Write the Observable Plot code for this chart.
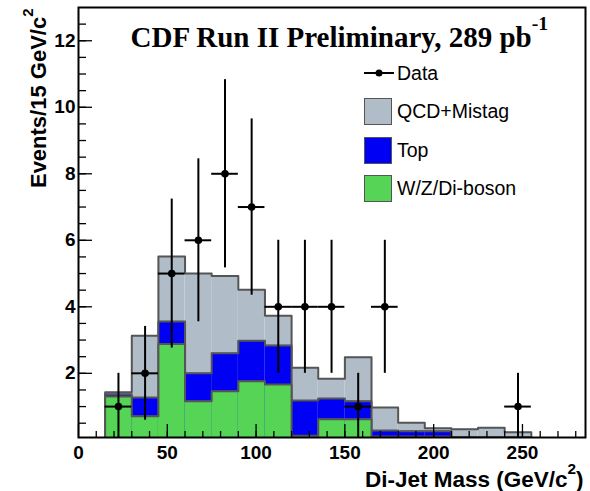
<!DOCTYPE html>
<html><head><meta charset="utf-8">
<script src="https://cdn.jsdelivr.net/npm/d3@7"></script>
<script src="https://cdn.jsdelivr.net/npm/@observablehq/plot@0.6"></script>
<style>
body{margin:0;background:#fff;}
#wrap{position:relative;width:590px;height:491px;overflow:hidden;}
#legend{position:absolute;left:364px;top:54px;font-family:"Liberation Sans",Arial,sans-serif;font-size:19.5px;color:#000;}
.row{display:flex;align-items:center;height:38.5px;}
.sw{width:26px;height:25px;border:1.5px solid #555;}
.lab{margin-left:5px;line-height:1;}
</style></head><body><div id="wrap"><div id="legend"></div></div>
<script>
// ---- data ----
const binEdges   = [15,30,45,60,75,90,105,120,135,150,165,180,195,210,225,240,255];
const wzDiboson  = [1.30,0.71,2.88,1.16,1.46,1.76,1.66,0.12,0.62,0.62,0.10,0.10,0.10,0.08,0.08,0.08];
const topQuark   = [0.07,0.56,0.68,0.84,1.14,1.22,1.18,1.06,0.62,0.54,0.18,0.16,0.16,0.00,0.00,0.00];
const qcdMistag  = [0.06,1.86,1.95,3.00,2.33,1.53,0.89,0.99,0.60,1.32,0.69,0.25,0.09,0.24,0.28,0.15];
const dataMass   = [22.5,37.5,52.5,67.5,82.5,97.5,112.5,127.5,142.5,157.5,172.5,247.5];
const dataEvents = [1,2,5,6,8,7,4,4,4,1,4,1];
const dataError  = [1,1.41,2.24,2.45,2.83,2.65,2,2,2,1,2,1];
const xTickLabels = [0,50,100,150,200,250];
const yTickLabels = [2,4,6,8,10,12];
const seriesNames = ["Data","QCD+Mistag","Top","W/Z/Di-boson"];
const colors = {qcd:"#b0bcc7", top:"#0000f5", wz:"#55d455", outline:"#555555"};

// ---- layout ----
const W=590, H=491, mL=78, mR=5, mT=7, mB=54;
const xDom=[0,285.5], yDom=[0.07,13];
const pxX=(W-mL-mR)/(xDom[1]-xDom[0]);
const pxY=(H-mT-mB)/(yDom[1]-yDom[0]);
const binW = binEdges[1]-binEdges[0];

const bins = wzDiboson.map((g,i)=>{
  const blue = g + topQuark[i];
  return {x1:binEdges[i], x2:binEdges[i+1], wz:g, blue, total: blue + qcdMistag[i]};
});
function outline(key){
  const pts=[{x:bins[0].x1,y:0}];
  bins.forEach(b=>pts.push({x:b.x1,y:b[key]}));
  const last=bins[bins.length-1];
  pts.push({x:last.x2,y:last[key]});
  pts.push({x:last.x2,y:0});
  return pts;
}
const points = dataMass.map((m,i)=>({m, v:dataEvents[i], e:dataError[i]}));

const xMinor = d3.range(10, xDom[1], 10);
const yMinor = d3.range(0.5, yDom[1], 0.5);
const y0 = yDom[0], x0 = xDom[0];

function hist(key, fill){
  return [
    Plot.rect(bins,{x1:"x1",x2:"x2",y1:()=>0,y2:key,fill,clip:true}),
    Plot.line(outline(key),{x:"x",y:"y",curve:"step-after",stroke:colors.outline,strokeWidth:2,clip:true})
  ];
}

const chart = Plot.plot({
  width:W, height:H, marginLeft:mL, marginRight:mR, marginTop:mT, marginBottom:mB,
  style:{fontFamily:"'Liberation Sans', Arial, sans-serif", background:"white", overflow:"visible", color:"black"},
  x:{domain:xDom},
  y:{domain:yDom},
  marks:[
    ...hist("total", colors.qcd),
    ...hist("blue", colors.top),
    ...hist("wz", colors.wz),
    // inward ticks
    Plot.ruleX(xMinor,{x:d=>d, y1:y0, y2:y0+6/pxY, stroke:"black", strokeWidth:1.3}),
    Plot.ruleX(xTickLabels,{x:d=>d, y1:y0, y2:y0+13/pxY, stroke:"black", strokeWidth:1.3}),
    Plot.ruleY(yMinor,{y:d=>d, x1:x0, x2:x0+8/pxX, stroke:"black", strokeWidth:1.3}),
    Plot.ruleY(yTickLabels,{y:d=>d, x1:x0, x2:x0+14/pxX, stroke:"black", strokeWidth:1.3}),
    // data
    Plot.ruleX(points,{x:"m", y1:d=>d.v-d.e, y2:d=>d.v+d.e, stroke:"black", strokeWidth:2, clip:true}),
    Plot.ruleY(points,{y:"v", x1:d=>d.m-binW/2, x2:d=>d.m+binW/2, stroke:"black", strokeWidth:2}),
    Plot.dot(points,{x:"m", y:"v", r:3.8, fill:"black", stroke:null}),
    Plot.frame({stroke:"black", strokeWidth:2}),
    Plot.axisX(xTickLabels,{tickSize:0, tickPadding:8, fontSize:19, fontWeight:"bold", label:null}),
    Plot.axisY(yTickLabels,{tickSize:0, tickPadding:3, fontSize:19, fontWeight:"bold", label:null}),
    Plot.text(["CDF Run II Preliminary, 289 pb^{-1}"],{text:d=>d, frameAnchor:"top-left", textAnchor:"start", lineAnchor:"bottom", dx:52, dy:39, fontSize:29, fontWeight:"bold", fontFamily:"'Liberation Serif', 'Times New Roman', serif"}),
    Plot.text(["Di-Jet Mass (GeV/c^{2})"],{text:d=>d, frameAnchor:"bottom-right", textAnchor:"end", lineAnchor:"bottom", dx:-2, dy:49.5, fontSize:22.5, fontWeight:"bold"}),
    Plot.text(["Events/15 GeV/c^{2}"],{text:d=>d, frameAnchor:"top-left", rotate:-90, textAnchor:"end", lineAnchor:"bottom", dx:-33, dy:1, fontSize:22, fontWeight:"bold"})
  ]
});

document.getElementById("wrap").prepend(chart);

// superscripts (after the chart is in the document)
d3.select(chart).selectAll("text").each(function(){
  const t=this.textContent; const m=t.match(/^(.*)\^\{(.*?)\}(.*)$/);
  if(!m) return;
  const fs=parseFloat(getComputedStyle(this).fontSize) || 20;
  const raise = fs*0.56, sz = fs*0.68;
  const el=d3.select(this); el.text(null);
  el.append("tspan").text(m[1]);
  el.append("tspan").attr("dy",-raise).attr("font-size",sz).text(m[2]);
  if(m[3]) el.append("tspan").attr("dy",raise).text(m[3]);
});

// legend
const lg = d3.select("#legend");
const swatch = {"QCD+Mistag":colors.qcd,"Top":colors.top,"W/Z/Di-boson":colors.wz};
seriesNames.forEach(name=>{
  const row = lg.append("div").attr("class","row");
  if(name==="Data"){
    const s=row.append("svg").attr("width",30).attr("height",10);
    s.append("line").attr("x1",0).attr("x2",30).attr("y1",5).attr("y2",5).attr("stroke","black").attr("stroke-width",2);
    s.append("circle").attr("cx",15).attr("cy",5).attr("r",3.5).attr("fill","black");
    row.append("span").attr("class","lab").style("margin-left","3px").text(name);
  } else {
    row.append("div").attr("class","sw").style("background",swatch[name]);
    row.append("span").attr("class","lab").text(name);
  }
});
</script></body></html>
